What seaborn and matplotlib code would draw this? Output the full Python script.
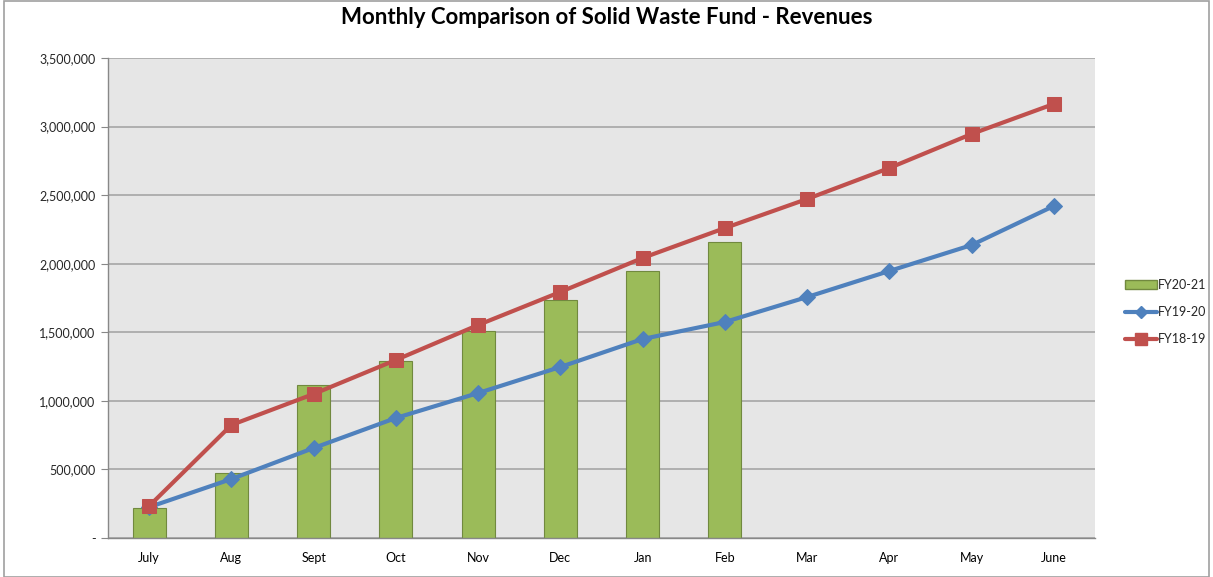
import matplotlib.pyplot as plt
import matplotlib.patches as mpatches
import matplotlib.ticker as mticker
import seaborn as sns
from matplotlib.lines import Line2D

months = ["July", "Aug", "Sept", "Oct", "Nov", "Dec", "Jan", "Feb", "Mar", "Apr", "May", "June"]
fy2021 = [220000, 474000, 1112000, 1290000, 1509000, 1735000, 1947000, 2158000]
fy1920 = [225000, 430000, 656000, 875000, 1057000, 1247000, 1451000, 1575000,
          1757000, 1947000, 2136000, 2421000]
fy1819 = [233000, 824000, 1050000, 1298000, 1553000, 1794000, 2042000, 2260000,
          2472000, 2698000, 2946000, 3165000]

GREEN = "#9BBB59"
BLUE = "#4F81BD"
RED = "#C0504D"

sns.set_style("white")
plt.rcParams["font.family"] = ["Lato", "DejaVu Sans"]

fig = plt.figure(figsize=(12.13, 5.77), dpi=100)
ax = fig.add_axes([108 / 1213, 1 - 538 / 577, 987 / 1213, 480 / 577])
ax.set_facecolor("#E6E6E6")

sns.barplot(x=months[:len(fy2021)], y=fy2021, order=months, color=GREEN,
            edgecolor="#71893F", linewidth=0.8, width=0.4, saturation=1, ax=ax, zorder=2)
sns.lineplot(x=list(range(12)), y=fy1920, color=BLUE, lw=3, marker="D", markersize=8,
             markeredgecolor=BLUE, ax=ax, zorder=3)
sns.lineplot(x=list(range(12)), y=fy1819, color=RED, lw=3, marker="s", markersize=10,
             markeredgecolor=RED, ax=ax, zorder=4)

ax.set_xlim(-0.5, 11.5)
ax.set_ylim(0, 3500000)
ax.set_xticks(range(12))
ax.set_xticklabels(months)
ax.set_xticks([i - 0.5 for i in range(13)], minor=True)
ax.tick_params(axis="x", which="major", length=0, labelsize=9, pad=10, colors="#000000")
ax.tick_params(axis="x", which="minor", length=5, color="#888888", direction="out")
ax.set_yticks(range(0, 3500001, 500000))
ax.yaxis.set_major_formatter(mticker.FuncFormatter(lambda v, p: "-" if v == 0 else f"{int(v):,}"))
ax.tick_params(axis="y", length=5, color="#888888", labelsize=9, pad=4, left=True)
ax.yaxis.grid(True, color="#A6A6A6", lw=1.2)
ax.set_axisbelow(True)
ax.set_xlabel("")
ax.set_ylabel("")
for s in ["top", "right"]:
    ax.spines[s].set_visible(False)
for s in ["left", "bottom"]:
    ax.spines[s].set_color("#888888")
    ax.spines[s].set_linewidth(1)

handles = [
    mpatches.Patch(facecolor=GREEN, edgecolor="#71893F", label="FY20-21"),
    Line2D([], [], color=BLUE, lw=3, marker="D", markersize=6, label="FY19-20"),
    Line2D([], [], color=RED, lw=3, marker="s", markersize=8, label="FY18-19"),
]
fig.legend(handles=handles, loc="center left", bbox_to_anchor=(1114 / 1213, 1 - 312 / 577),
           frameon=False, fontsize=9, handlelength=2.5, handletextpad=0.1,
           labelspacing=1.2)

fig.text(0.5, 1 - 18 / 577, "Monthly Comparison of Solid Waste Fund - Revenues",
         ha="center", va="center", fontsize=16, fontweight="bold", color="#000000")

fig.patches.append(mpatches.Rectangle((0.003, 0.0), 0.994, 0.998, transform=fig.transFigure,
                                      fill=False, edgecolor="#A0A0A0", lw=1.2))

fig.savefig("out.png", dpi=100)
